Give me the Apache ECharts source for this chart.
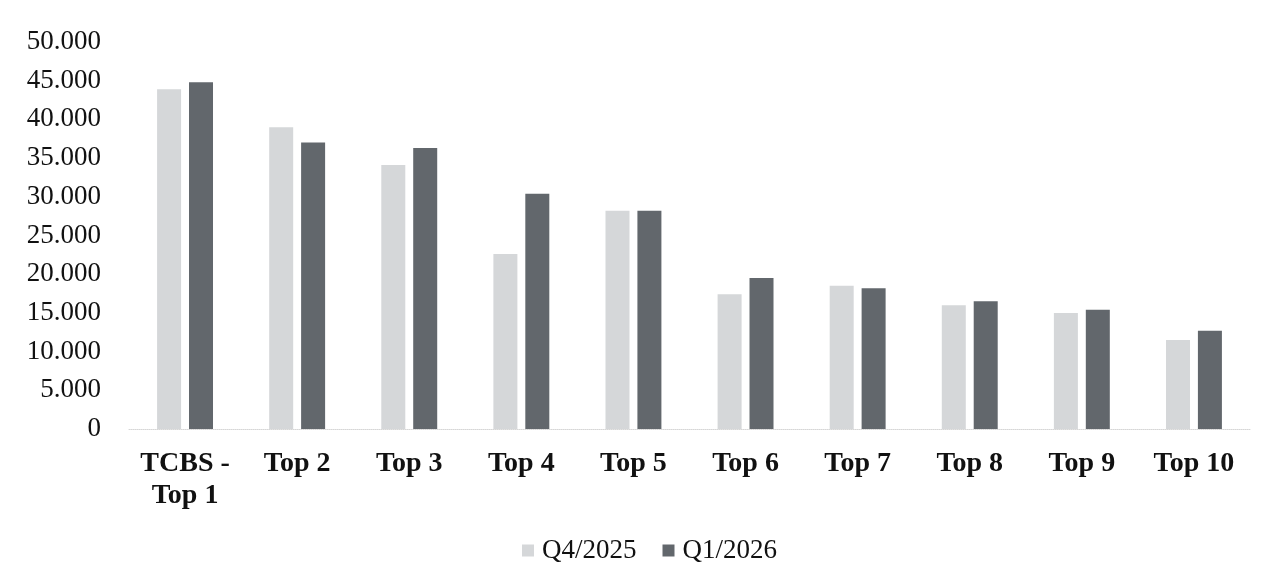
<!DOCTYPE html>
<html>
<head>
<meta charset="utf-8">
<script src="https://cdn.jsdelivr.net/npm/echarts@6/dist/echarts.min.js"></script>
<style>
  html, body { margin: 0; padding: 0; background: #ffffff; }
  #chart { width: 1266px; height: 580px; }
</style>
</head>
<body>
<div id="chart"></div>
<script>
// Categories and quarterly values (units as shown on the axis)
const categories = ['TCBS -\nTop 1', 'Top 2', 'Top 3', 'Top 4', 'Top 5', 'Top 6', 'Top 7', 'Top 8', 'Top 9', 'Top 10'];
const seriesNames = ['Q4/2025', 'Q1/2026'];
const q4_2025 = [43900, 39000, 34100, 22600, 28200, 17400, 18500, 16000, 15000, 11500];
const q1_2026 = [44800, 37000, 36300, 30400, 28200, 19500, 18200, 16500, 15400, 12700];
const yTicks = { min: 0, max: 50000, interval: 5000 };

const serif = '"Liberation Serif", "DejaVu Serif", serif';

function fmtThousands(v) {
  return String(v).replace(/\B(?=(\d{3})+(?!\d))/g, '.');
}

const chart = echarts.init(document.getElementById('chart'), null, { renderer: 'canvas' });
chart.setOption({
  backgroundColor: '#ffffff',
  animation: false,
  grid: { left: 129, right: 16, top: 42, bottom: 151, containLabel: false },
  legend: {
    data: seriesNames,
    bottom: 11,
    left: 517,
    itemWidth: 12,
    itemHeight: 12,
    itemGap: 26,
    icon: 'rect',
    textStyle: { fontFamily: serif, fontSize: 27, color: '#111111', padding: [0, 0, 0, 3] }
  },
  xAxis: {
    type: 'category',
    data: categories,
    axisLine: { show: true, lineStyle: { color: '#d6d6d6', width: 1, type: 'dotted' } },
    axisTick: { show: false },
    axisLabel: {
      interval: 0,
      margin: 19,
      fontFamily: serif,
      fontWeight: 'bold',
      fontSize: 28,
      lineHeight: 32,
      color: '#111111'
    }
  },
  yAxis: {
    type: 'value',
    min: yTicks.min,
    max: yTicks.max,
    interval: yTicks.interval,
    axisLine: { show: false },
    axisTick: { show: false },
    splitLine: { show: false },
    axisLabel: {
      margin: 28,
      fontFamily: serif,
      fontSize: 27,
      color: '#111111',
      formatter: fmtThousands
    }
  },
  series: [
    {
      name: seriesNames[0],
      type: 'bar',
      data: q4_2025,
      barWidth: 24,
      barGap: '33%',
      itemStyle: { color: '#d5d7d9' }
    },
    {
      name: seriesNames[1],
      type: 'bar',
      data: q1_2026,
      barWidth: 24,
      barGap: '33%',
      itemStyle: { color: '#62676c' }
    }
  ]
});
</script>
</body>
</html>
